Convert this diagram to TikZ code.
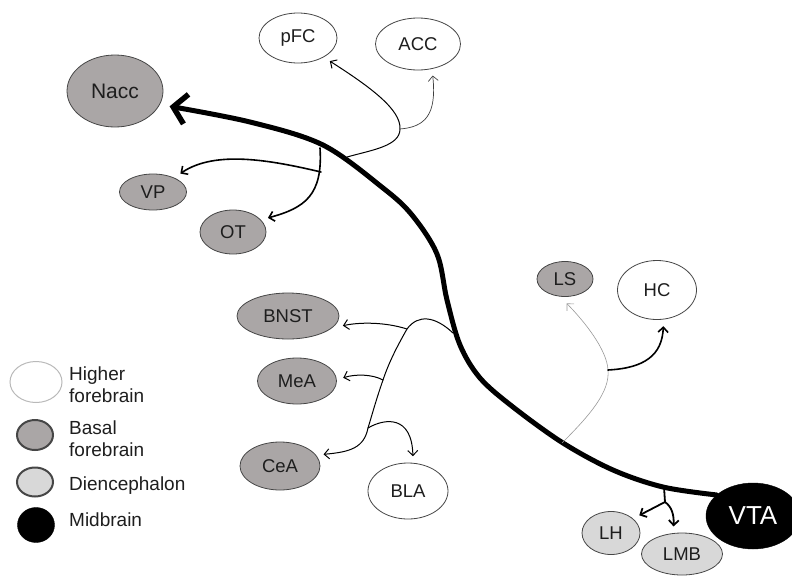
\documentclass[tikz,border=0pt]{standalone}
\usepackage{fontspec}
\setmainfont{Liberation Sans}
\usetikzlibrary{arrows.meta,shapes.geometric}
\definecolor{basal}{RGB}{170,166,166}
\definecolor{dien}{RGB}{216,216,216}
\definecolor{txt}{RGB}{30,30,30}
\definecolor{edge}{RGB}{70,70,70}
\begin{document}
\begin{tikzpicture}[x=1pt,y=-1pt,
  region/.style={ellipse, draw=edge, line width=0.8pt, inner sep=0pt, outer sep=7pt, text=txt, font=\fontsize{18.5}{22}\selectfont},
  higher/.style={region, fill=white},
  basalr/.style={region, fill=basal},
  dienr/.style={region, fill=dien},
  tip/.style={-{Straight Barb[length=5pt,width=10pt]}},
  ax/.style={tip, line width=1pt, line cap=round},
  axthick/.style={tip, line width=1.6pt, line cap=round},
  axthin/.style={tip, line width=0.6pt, draw=gray},
  legtext/.style={anchor=west, align=left, text=txt, font=\fontsize{19}{22}\selectfont, inner sep=0pt}
]
\useasboundingbox (0,0) rectangle (792,576);

% regions
\node[basalr, minimum width=96pt, minimum height=72pt, font=\fontsize{21}{24}\selectfont] (Nacc) at (115,91) {Nacc};
\node[higher, minimum width=78pt, minimum height=50pt] (pFC) at (298,38) {pFC};
\node[higher, minimum width=85pt, minimum height=52pt] (ACC) at (418,44) {ACC};
\node[basalr, minimum width=67pt, minimum height=36pt] (VP) at (153,192) {VP};
\node[basalr, minimum width=66pt, minimum height=44pt] (OT) at (233,232) {OT};
\node[basalr, minimum width=102pt, minimum height=46pt] (BNST) at (288,316) {BNST};
\node[basalr, minimum width=79pt, minimum height=46pt] (MeA) at (297,381) {MeA};
\node[basalr, minimum width=80pt, minimum height=48pt] (CeA) at (280,466) {CeA};
\node[higher, minimum width=80pt, minimum height=56pt] (BLA) at (408,491) {BLA};
\node[basalr, minimum width=56pt, minimum height=35pt] (LS) at (565,279) {LS};
\node[higher, minimum width=79pt, minimum height=59pt] (HC) at (657,290) {HC};
\node[dienr, minimum width=58pt, minimum height=43pt] (LH) at (611,533) {LH};
\node[dienr, minimum width=81pt, minimum height=42pt] (LMB) at (682,554) {LMB};
\node[ellipse, fill=black, draw=black, inner sep=0pt, minimum width=94pt, minimum height=66pt, text=white, font=\fontsize{26}{30}\selectfont] (VTA) at (753,516) {VTA};

% main projection
\draw[line width=5pt, line cap=round, -{Straight Barb[length=13pt,width=30pt,line width=5.5pt]}, shorten >=3pt]
  plot[smooth, tension=0.55] coordinates {(VTA.150) (663,487) (613,470) (563,443) (513,407) (480,378) (460,345) (447,300) (437,254) (412,215) (383,188) (323,145) (250,122) (Nacc.-16)};

% junctions
\coordinate (j1) at (347,157);
\coordinate (j2) at (400,129);
\coordinate (j3) at (320,148);
\coordinate (j4) at (321,172);
\coordinate (j5) at (453,333);
\coordinate (j6) at (407,329);
\coordinate (j8) at (383,380);
\coordinate (j9) at (368,428);
\coordinate (j10) at (562,443);
\coordinate (j11) at (608,370);
\coordinate (j12) at (664,487);
\coordinate (j13) at (665,502);

% pFC / ACC
\draw[ax] (j1) .. controls (372,150) and (400,146) .. (j2) .. controls (401,110) and (372,88) .. (pFC.-36);
\draw[axthin, draw=black!75, line width=0.7pt] (j2) .. controls (425,127) and (437,115) .. (ACC.-65);

% VP / OT
\draw[axthick] (j3) .. controls (323,195) and (305,208) .. (OT.22);
\draw[axthick] (j4) .. controls (270,160) and (215,150) .. (VP.34);

% amygdala group
\draw[ax] (j5) .. controls (435,316) and (418,314) .. (j6) .. controls (395,350) and (388,365) .. (j8) .. controls (376,400) and (372,415) .. (j9) .. controls (364,448) and (350,452) .. (CeA.15);
\draw[ax] (j6) .. controls (385,322) and (360,322) .. (BNST.-10);
\draw[ax] (j8) .. controls (372,374) and (355,374) .. (MeA.4);
\draw[ax] (j9) .. controls (385,418) and (412,415) .. (BLA.82);

% LS / HC
\draw[axthin, draw=gray!80] (j10) .. controls (590,415) and (610,392) .. (j11) .. controls (607,350) and (585,322) .. (LS.-86);
\draw[axthick] (j11) .. controls (645,368) and (662,355) .. (HC.-80);

% LH / LMB
\draw[line width=1.8pt] (j12) -- (j13);
\draw[axthick, line width=1.8pt] (j13) -- (LH.32);
\draw[axthick, line width=1.8pt] (j13) .. controls (672,507) and (674,515) .. (LMB.107);

% legend
\node[ellipse, draw=gray!55, line width=1pt, fill=white, minimum width=52pt, minimum height=41pt] (lg1) at (36,382) {};
\node[ellipse, draw=edge, line width=2pt, fill=basal, minimum width=36pt, minimum height=30pt] (lg2) at (35,435) {};
\node[ellipse, draw=edge, line width=2pt, fill=dien, minimum width=36pt, minimum height=29pt] (lg3) at (35,482) {};
\node[ellipse, draw=black, fill=black, minimum width=37pt, minimum height=35pt] (lg4) at (36,525) {};
\node[legtext] (t1) at (69,385) {Higher\\forebrain};
\node[legtext] (t2) at (69,439) {Basal\\forebrain};
\node[legtext] (t3) at (69,486) {Diencephalon};
\node[legtext] (t4) at (69,520) {Midbrain};
\end{tikzpicture}
\end{document}
